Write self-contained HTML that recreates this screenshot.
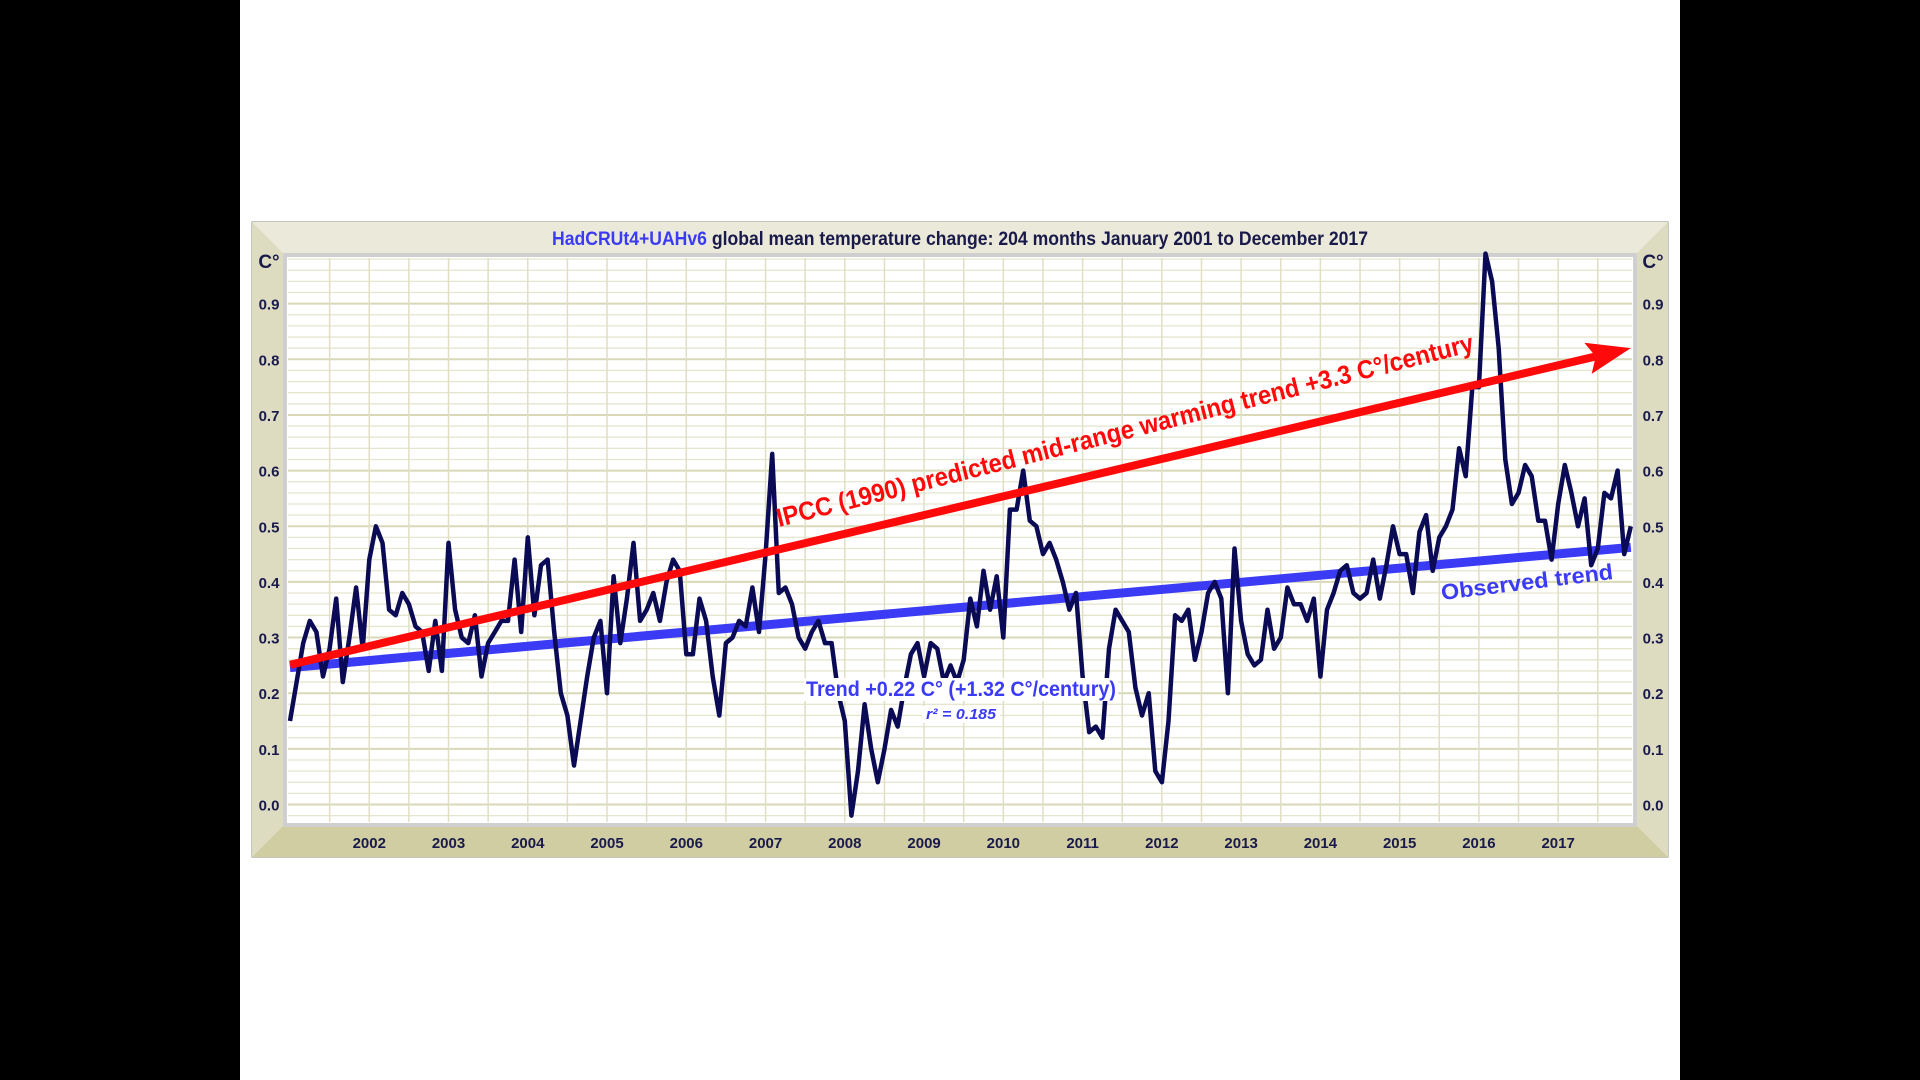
<!DOCTYPE html>
<html><head><meta charset="utf-8"><style>
html,body{margin:0;padding:0;width:1920px;height:1080px;background:#fff;overflow:hidden}
svg{display:block}
text{font-family:"Liberation Sans Narrow","Liberation Sans",sans-serif}
</style></head><body>
<svg id="chart" width="1920" height="1080">
<rect x="0" y="0" width="240" height="1080" fill="#000"/>
<rect x="1680" y="0" width="240" height="1080" fill="#000"/>
<g>
<rect x="252" y="222" width="1416" height="635" fill="#e9e8d8" stroke="#8a8a78" stroke-width="1"/>
<polygon points="252,222 286,256 286,823 252,857" fill="#dddcc0"/>
<polygon points="1668,222 1634,256 1634,823 1668,857" fill="#dddcc0"/>
<polygon points="252,857 286,823 1634,823 1668,857" fill="#d0cda2"/>
<polygon points="252,222 1668,222 1634,256 286,256" fill="#eae9da"/>
<rect x="285" y="255" width="1350" height="570" fill="#fff" stroke="#cfcfcf" stroke-width="4"/>
</g>
<g id="grid"></g>
<g id="axes"></g>
<g id="series"></g>
<text x="960" y="245" text-anchor="middle" font-size="19" font-weight="bold" fill="#1a1a4a" textLength="816" lengthAdjust="spacingAndGlyphs"><tspan fill="#3b3bf5">HadCRUt4+UAHv6</tspan> global mean temperature change: 204 months January 2001 to December 2017</text>
</svg>
<script>
const years = [2002,2003,2004,2005,2006,2007,2008,2009,2010,2011,2012,2013,2014,2015,2016,2017];
const yTicks = [0.0,0.1,0.2,0.3,0.4,0.5,0.6,0.7,0.8,0.9];
const anom2001 = [0.15,0.22,0.29,0.33,0.31,0.23,0.28,0.37,0.22,0.30,0.39,0.28];
const anom2002 = [0.44,0.50,0.47,0.35,0.34,0.38,0.36,0.32,0.31,0.24,0.33,0.24];
const anom2003 = [0.47,0.35,0.30,0.29,0.34,0.23,0.29,0.31,0.33,0.33,0.44,0.31];
const anom2004 = [0.48,0.34,0.43,0.44,0.31,0.20,0.16,0.07,0.15,0.23,0.30,0.33];
const anom2005 = [0.20,0.41,0.29,0.37,0.47,0.33,0.35,0.38,0.33,0.40,0.44,0.42];
const anom2006 = [0.27,0.27,0.37,0.33,0.23,0.16,0.29,0.30,0.33,0.32,0.39,0.31];
const anom2007 = [0.45,0.63,0.38,0.39,0.36,0.30,0.28,0.31,0.33,0.29,0.29,0.20];
const anom2008 = [0.15,-0.02,0.06,0.18,0.10,0.04,0.10,0.17,0.14,0.21,0.27,0.29];
const anom2009 = [0.23,0.29,0.28,0.22,0.25,0.22,0.26,0.37,0.32,0.42,0.35,0.41];
const anom2010 = [0.30,0.53,0.53,0.60,0.51,0.50,0.45,0.47,0.44,0.40,0.35,0.38];
const anom2011 = [0.23,0.13,0.14,0.12,0.28,0.35,0.33,0.31,0.21,0.16,0.20,0.06];
const anom2012 = [0.04,0.15,0.34,0.33,0.35,0.26,0.31,0.38,0.40,0.37,0.20,0.46];
const anom2013 = [0.33,0.27,0.25,0.26,0.35,0.28,0.30,0.39,0.36,0.36,0.33,0.37];
const anom2014 = [0.23,0.35,0.38,0.42,0.43,0.38,0.37,0.38,0.44,0.37,0.43,0.50];
const anom2015 = [0.45,0.45,0.38,0.49,0.52,0.42,0.48,0.50,0.53,0.64,0.59,0.75];
const anom2016 = [0.75,0.99,0.94,0.82,0.62,0.54,0.56,0.61,0.59,0.51,0.51,0.44];
const anom2017 = [0.54,0.61,0.56,0.50,0.55,0.43,0.46,0.56,0.55,0.60,0.45,0.50];
const observedTrend = [0.246, 0.462];
const ipccTrend = [0.251, 0.82];

const NS='http://www.w3.org/2000/svg';
const data = [].concat(anom2001,anom2002,anom2003,anom2004,anom2005,anom2006,anom2007,anom2008,anom2009,anom2010,anom2011,anom2012,anom2013,anom2014,anom2015,anom2016,anom2017);
const X0=290, PERYEAR=79.26, Y0=804.5, PER01=55.65;
function xMonth(i){return X0 + i*PERYEAR/12;}
function xYear(y){return X0 + (y-2001)*PERYEAR;}
function yVal(v){return Y0 - v*PER01*10;}
function mk(tag,attrs,parent){const e=document.createElementNS(NS,tag);for(const k in attrs)e.setAttribute(k,attrs[k]);parent.appendChild(e);return e;}
const grid=document.getElementById('grid'), axes=document.getElementById('axes'), series=document.getElementById('series');
for(let k=-1;k<=49;k++){
  const v=k*0.02, y=yVal(v);
  if(y<258||y>822) continue;
  const major = (k%5===0);
  const l=mk('line',{x1:288,x2:1632,y1:y,y2:y,stroke:major?'#d9d8b8':'#e6e5cf','stroke-width':major?2:1.3},grid);
  
  
}
for(let m=6;m<204;m+=6){
  const x=xMonth(m);
  const l=mk('line',{x1:x,x2:x,y1:258,y2:822,stroke:'#e0dfc4','stroke-width':1.5},grid);
  
  
}
yTicks.forEach(v=>{
  const t1=mk('text',{x:269,y:yVal(v)+6,'text-anchor':'middle','font-size':15,'font-weight':'bold',fill:'#1a1a4a'},axes);
  t1.textContent=v.toFixed(1);
  
  
  const t2=mk('text',{x:1653,y:yVal(v)+6,'text-anchor':'middle','font-size':15,'font-weight':'bold',fill:'#1a1a4a'},axes);
  t2.textContent=v.toFixed(1);
  
  
});
['left','right'].forEach((s,i)=>{
  const t=mk('text',{x:i?1653:269,y:268,'text-anchor':'middle','font-size':19,'font-weight':'bold',fill:'#1a1a4a'},axes);
  t.textContent='C°';
  
  
});
years.forEach(yr=>{
  const t=mk('text',{x:xYear(yr),y:848,'text-anchor':'middle','font-size':15,'font-weight':'bold',fill:'#1a1a4a'},axes);
  t.textContent=yr;
  
  
});
const ob=mk('line',{x1:xMonth(0),y1:yVal(observedTrend[0]),x2:xMonth(203),y2:yVal(observedTrend[1]),stroke:'#3b3bf5','stroke-width':9},series);


const pts=data.map((v,i)=>xMonth(i).toFixed(1)+','+yVal(v).toFixed(1)).join(' ');
const pl=mk('polyline',{points:pts,fill:'none',stroke:'#0b0b55','stroke-width':4.5,'stroke-linejoin':'round'},series);


const ax1=xMonth(0), ay1=yVal(ipccTrend[0]), ax2=xMonth(203), ay2=yVal(ipccTrend[1]);
const ang=Math.atan2(ay2-ay1,ax2-ax1), hl=36, hw=16;
const bx=ax2-hl*Math.cos(ang), by=ay2-hl*Math.sin(ang);
const ip=mk('line',{x1:ax1,y1:ay1,x2:bx,y2:by,stroke:'#ff0a0a','stroke-width':8},series);


const nx=-Math.sin(ang), ny=Math.cos(ang);
const head=mk('polygon',{points:`${ax2},${ay2} ${bx-8*Math.cos(ang)+nx*hw},${by-8*Math.sin(ang)+ny*hw} ${bx},${by} ${bx-8*Math.cos(ang)-nx*hw},${by-8*Math.sin(ang)-ny*hw}`,fill:'#ff0a0a'},series);


const bg=mk('rect',{x:804,y:678,width:314,height:23,fill:'#fff'},series);


const bg2=mk('rect',{x:922,y:706,width:78,height:17,fill:'#fff'},series);


function ann(txt,x,y,rot,size,color,len,name,style){
  const t=mk('text',{x:x,y:y,'font-size':size,'font-weight':'bold',fill:color,transform:`rotate(${rot} ${x} ${y})`,textLength:len,lengthAdjust:'spacingAndGlyphs'},series);
  if(style) t.setAttribute('style',style);
  t.textContent=txt;
  
  
}
ann('IPCC (1990) predicted mid-range warming trend +3.3 C°/century',779,527,-14.2,26,'#ff0a0a',718,'ipcc-annotation','font-family:"Liberation Sans",sans-serif');
ann('Observed trend',1442,600,-7,22,'#3b3bf5',173,'observed-trend-label','font-family:"Liberation Sans",sans-serif');
ann('Trend +0.22 C° (+1.32 C°/century)',806,696,0,21,'#3b3bf5',310,'trend-stat-label');
ann('r² = 0.185',926,719,0,15,'#3b3bf5',70,'r-squared-label','font-style:italic');
</script>
</body></html>
